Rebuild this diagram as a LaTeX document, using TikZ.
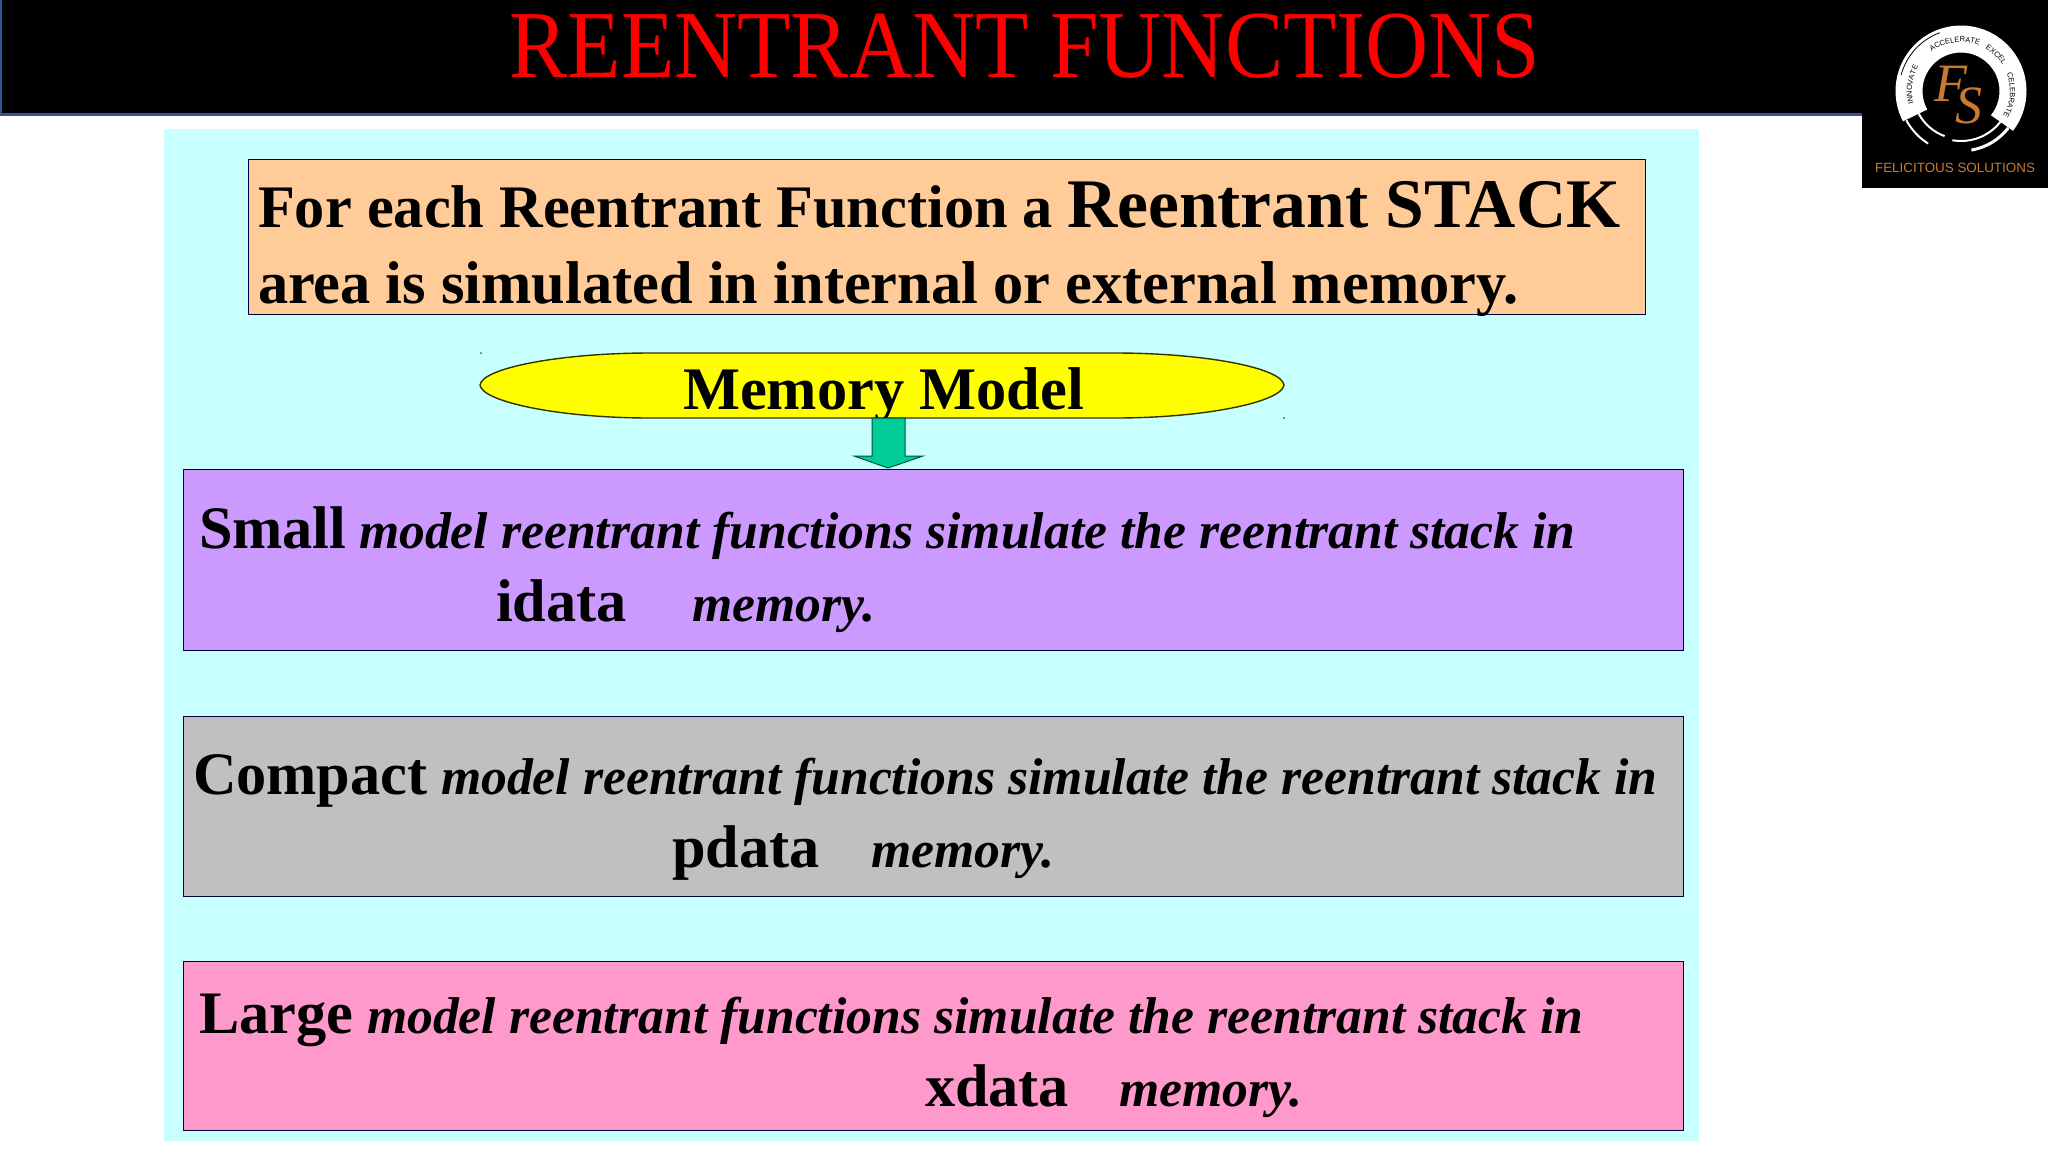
\documentclass[tikz,border=0pt]{standalone}
\usepackage{fontspec}
\setmainfont{Liberation Serif}
\newfontfamily\logofont{Liberation Sans}
\usetikzlibrary{decorations.text}
\definecolor{bgcyan}{HTML}{C8FFFF}
\definecolor{orangebox}{HTML}{FFCC99}
\definecolor{purplebox}{HTML}{CC99FF}
\definecolor{greybox}{HTML}{C0C0C0}
\definecolor{pinkbox}{HTML}{FF99CC}
\definecolor{arrowgreen}{HTML}{00CC99}
\definecolor{edgeblue}{HTML}{2F5597}
\definecolor{logoorange}{HTML}{C87A30}
\definecolor{pureyellow}{HTML}{FFFF00}
\definecolor{purered}{HTML}{FF0000}
\tikzset{
  panel/.style={draw=black!75!blue,line width=1.3pt,anchor=north west,inner sep=0pt},
  txt/.style={anchor=base west,inner sep=0pt,outer sep=0pt,text=black},
  big/.style={txt,font=\fontsize{60.4}{60}\selectfont\bfseries},
  ital/.style={txt,font=\fontsize{51.7}{52}\selectfont\bfseries\itshape},
  lead/.style={txt,font=\fontsize{60.3}{60}\selectfont\bfseries},
  ringtxt/.style={decorate,decoration={text along path,text align=center,
    text={|\logofont\fontsize{7.5}{8}\selectfont\color{black}|#1}}}
}
\begin{document}
\begin{tikzpicture}[x=1pt,y=-1pt]
\useasboundingbox (0,0) rectangle (2048,1152);
\fill[white] (0,0) rectangle (2048,1152);
% header
\fill[edgeblue] (0,0) rectangle (1864,116);
\fill[black] (2,0) rectangle (1864,113);
\fill[black] (1862,0) rectangle (2048,188);
\node[anchor=base,text=purered,inner sep=0pt,font=\fontsize{87.3}{88}\selectfont] (title) at (1025,77) {\scalebox{1}[1.1]{REENTRANT FUNCTIONS}};
% logo
\begin{scope}[shift={(1961,91)},yscale=-1]
  \draw[white,line width=27pt] (-38:52) arc[start angle=-38,end angle=208,radius=52];
  \draw[white,line width=3pt] (-38:60) arc[start angle=-38,end angle=-80,radius=60];
  \draw[white,line width=2pt] (-38:50) arc[start angle=-38,end angle=-100,radius=50];
  \draw[white,line width=2pt] (208:62) arc[start angle=208,end angle=238,radius=62];
  \draw[white,line width=2pt] (208:48) arc[start angle=208,end angle=250,radius=48];
  \draw[black,line width=0.8pt] (165:62) arc[start angle=165,end angle=110,radius=62];
  \path[ringtxt={INNOVATE}] (205:49) arc[start angle=205,end angle=140,radius=49];
  \path[ringtxt={ACCELERATE}] (125:49) arc[start angle=125,end angle=70,radius=49];
  \path[ringtxt={EXCEL}] (62:49) arc[start angle=62,end angle=30,radius=49];
  \path[ringtxt={CELEBRATE}] (25:49) arc[start angle=25,end angle=-35,radius=49];
\end{scope}
\node[text=logoorange,inner sep=0pt,font=\fontsize{54}{54}\selectfont\itshape] (logof) at (1951,84) {F};
\node[text=logoorange,inner sep=0pt,font=\fontsize{54}{54}\selectfont\itshape] (logos) at (1969,106) {S};
\node[text=logoorange,inner sep=0pt,font=\logofont\fontsize{13.4}{14}\selectfont] (logoname) at (1955,168) {FELICITOUS SOLUTIONS};
% panel
\fill[bgcyan] (164,129) rectangle (1699,1141);
\node[panel,fill=orangebox,minimum width=1397pt,minimum height=155pt] (topbox) at (248,159) {};
\node[big] (t1) at (258,227) {For each Reentrant Function a};
\node[txt,font=\fontsize{69.6}{70}\selectfont\bfseries] (t2) at (1067,227) {Reentrant STACK};
\node[big] (t3) at (258,303) {area is simulated in internal or external memory.};
% ellipse
\draw[fill=pureyellow,draw=black!80!pureyellow,line width=1.4pt] (480,385) .. controls (482,368) and (560,353) .. (650,353) -- (1115,353) .. controls (1205,353) and (1282,368) .. (1284,385) .. controls (1282,402) and (1205,418) .. (1115,418) -- (650,418) .. controls (560,418) and (482,402) .. (480,385) -- cycle;
\fill[black!70] (481,353) circle (1pt) (1284,418) circle (1pt);
\node[big] (mem) at (683,409) {Memory Model};
% boxes
\node[panel,fill=purplebox,minimum width=1500pt,minimum height=181pt] (small) at (183,469) {};
\node[panel,fill=greybox,minimum width=1500pt,minimum height=180pt] (compact) at (183,716) {};
\node[panel,fill=pinkbox,minimum width=1500pt,minimum height=169pt] (large) at (183,961) {};
% arrow
\coordinate (atop) at (888,418);
\coordinate (atip) at (888,468);
\draw[fill=arrowgreen,draw=black!60!arrowgreen,line width=1pt] (atop) ++(-16,0) -- ++(0,38) -- ++(-18,0) -- (atip) -- ++(35,-12) -- ++(-18,0) -- ++(0,-38) -- cycle;
% texts
\node[lead] (s1) at (199,548) {Small};
\node[ital] (s2) at (359,548) {model reentrant functions simulate the reentrant stack in};
\node[lead] (s3) at (496,621) {idata};
\node[ital] (s4) at (692,621) {memory.};
\node[lead] (c1) at (193,794) {Compact};
\node[ital] (c2) at (441,794) {model reentrant functions simulate the reentrant stack in};
\node[lead] (c3) at (672,867) {pdata};
\node[ital] (c4) at (871,867) {memory.};
\node[lead] (l1) at (199,1033) {Large};
\node[ital] (l2) at (367,1033) {model reentrant functions simulate the reentrant stack in};
\node[lead] (l3) at (925,1106) {xdata};
\node[ital] (l4) at (1119,1106) {memory.};
\end{tikzpicture}
\end{document}
